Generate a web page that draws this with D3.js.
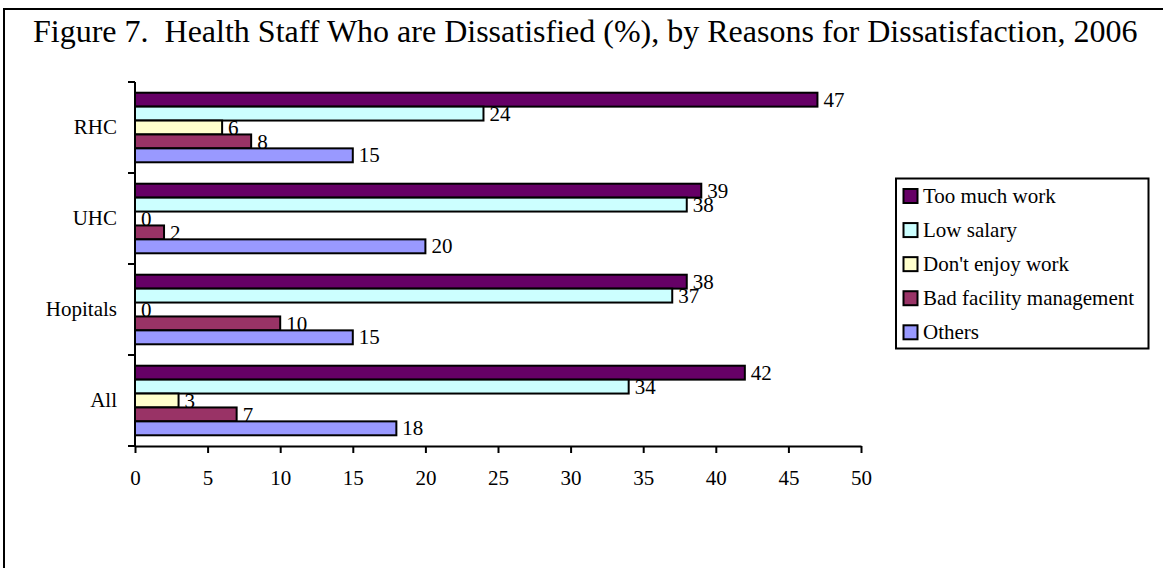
<!DOCTYPE html>
<html>
<head>
<meta charset="utf-8">
<script src="https://cdn.jsdelivr.net/npm/d3@7"></script>
<style>
  html, body { margin: 0; padding: 0; background: #fff; }
  svg { display: block; }
  text { font-family: "Liberation Serif", "Times New Roman", serif; fill: #000; }
</style>
</head>
<body>
<svg id="chart" width="1163" height="568"></svg>
<script>
const categories = ["RHC", "UHC", "Hopitals", "All"];
const seriesNames = ["Too much work", "Low salary", "Don't enjoy work", "Bad facility management", "Others"];
const tooMuchWork = [47, 39, 38, 42];
const lowSalary = [24, 38, 37, 34];
const dontEnjoy = [6, 0, 0, 3];
const badFacility = [8, 2, 10, 7];
const others = [15, 20, 15, 18];
const xTicks = [0, 5, 10, 15, 20, 25, 30, 35, 40, 45, 50];
const colors = ["#660066", "#CCFFFF", "#FFFFCC", "#993366", "#9999FF"];
const titleText = "Figure 7.  Health Staff Who are Dissatisfied (%), by Reasons for Dissatisfaction, 2006";

const seriesValues = [tooMuchWork, lowSalary, dontEnjoy, badFacility, others];

const svg = d3.select("#chart");

// outer frame
svg.append("rect")
  .attr("x", 4).attr("y", 9)
  .attr("width", 1250).attr("height", 700)
  .attr("fill", "none").attr("stroke", "#000").attr("stroke-width", 2);

svg.append("text")
  .attr("x", 33).attr("y", 42)
  .attr("font-size", 32)
  .attr("xml:space", "preserve")
  .style("white-space", "pre")
  .text(titleText);

const x = d3.scaleLinear().domain([0, 50]).range([135, 861]);
const y = d3.scaleBand().domain(categories).range([82, 446]).paddingInner(0).paddingOuter(0);
const ySub = d3.scaleBand().domain(seriesNames).range([0, y.bandwidth()]).paddingInner(0).paddingOuter(0.77);

const g = svg.append("g");

categories.forEach((cat, ci) => {
  const gc = g.append("g").attr("transform", `translate(0,${y(cat)})`);
  seriesNames.forEach((s, si) => {
    const v = seriesValues[si][ci];
    gc.append("rect")
      .attr("x", x(0))
      .attr("y", ySub(s))
      .attr("width", x(v) - x(0))
      .attr("height", ySub.bandwidth())
      .attr("fill", colors[si])
      .attr("stroke", "#000")
      .attr("stroke-width", 2);
    gc.append("text")
      .attr("x", x(v) + 6)
      .attr("y", ySub(s) + ySub.bandwidth() / 2)
      .attr("dy", "0.34em")
      .attr("font-size", 21)
      .text(v);
  });
});

// y axis
const yAxis = d3.axisLeft(y).tickSize(0).tickFormat("");
const yg = svg.append("g").attr("transform", `translate(${x(0)},0)`).call(yAxis);
yg.select(".domain").attr("stroke", "#000").attr("stroke-width", 2).attr("d", `M0,${82}V${446}`);
// band boundary ticks
const bounds = categories.map(c => y(c)).concat([y.range()[1]]);
svg.append("g").selectAll("line").data(bounds).join("line")
  .attr("x1", x(0) - 7).attr("x2", x(0))
  .attr("y1", d => d).attr("y2", d => d)
  .attr("stroke", "#000").attr("stroke-width", 2);
// category labels
svg.append("g").selectAll("text").data(categories).join("text")
  .attr("x", 117)
  .attr("y", d => y(d) + y.bandwidth() / 2)
  .attr("dy", "0.33em")
  .attr("text-anchor", "end")
  .attr("font-size", 21)
  .text(d => d);

// x axis
const xAxis = d3.axisBottom(x).tickValues(xTicks).tickSize(7).tickPadding(17).tickSizeOuter(0);
const xg = svg.append("g").attr("transform", `translate(0,446)`).call(xAxis);
xg.select(".domain").attr("stroke", "#000").attr("stroke-width", 2);
xg.selectAll(".tick line").attr("stroke", "#000").attr("stroke-width", 2);
xg.selectAll(".tick text")
  .attr("font-family", "Liberation Serif, Times New Roman, serif")
  .attr("font-size", 21)
  .attr("fill", "#000");

// legend
const lg = svg.append("g");
lg.append("rect")
  .attr("x", 896).attr("y", 178.5)
  .attr("width", 252.5).attr("height", 170)
  .attr("fill", "#fff").attr("stroke", "#000").attr("stroke-width", 2);
const ly = d3.scalePoint().domain(seriesNames).range([196, 332.3]);
seriesNames.forEach((s, i) => {
  lg.append("rect")
    .attr("x", 903.5).attr("y", ly(s) - 7)
    .attr("width", 14).attr("height", 14)
    .attr("fill", colors[i]).attr("stroke", "#000").attr("stroke-width", 2);
  lg.append("text")
    .attr("x", 923).attr("y", ly(s))
    .attr("dy", "0.33em")
    .attr("font-size", 21)
    .text(s);
});
</script>
</body>
</html>
